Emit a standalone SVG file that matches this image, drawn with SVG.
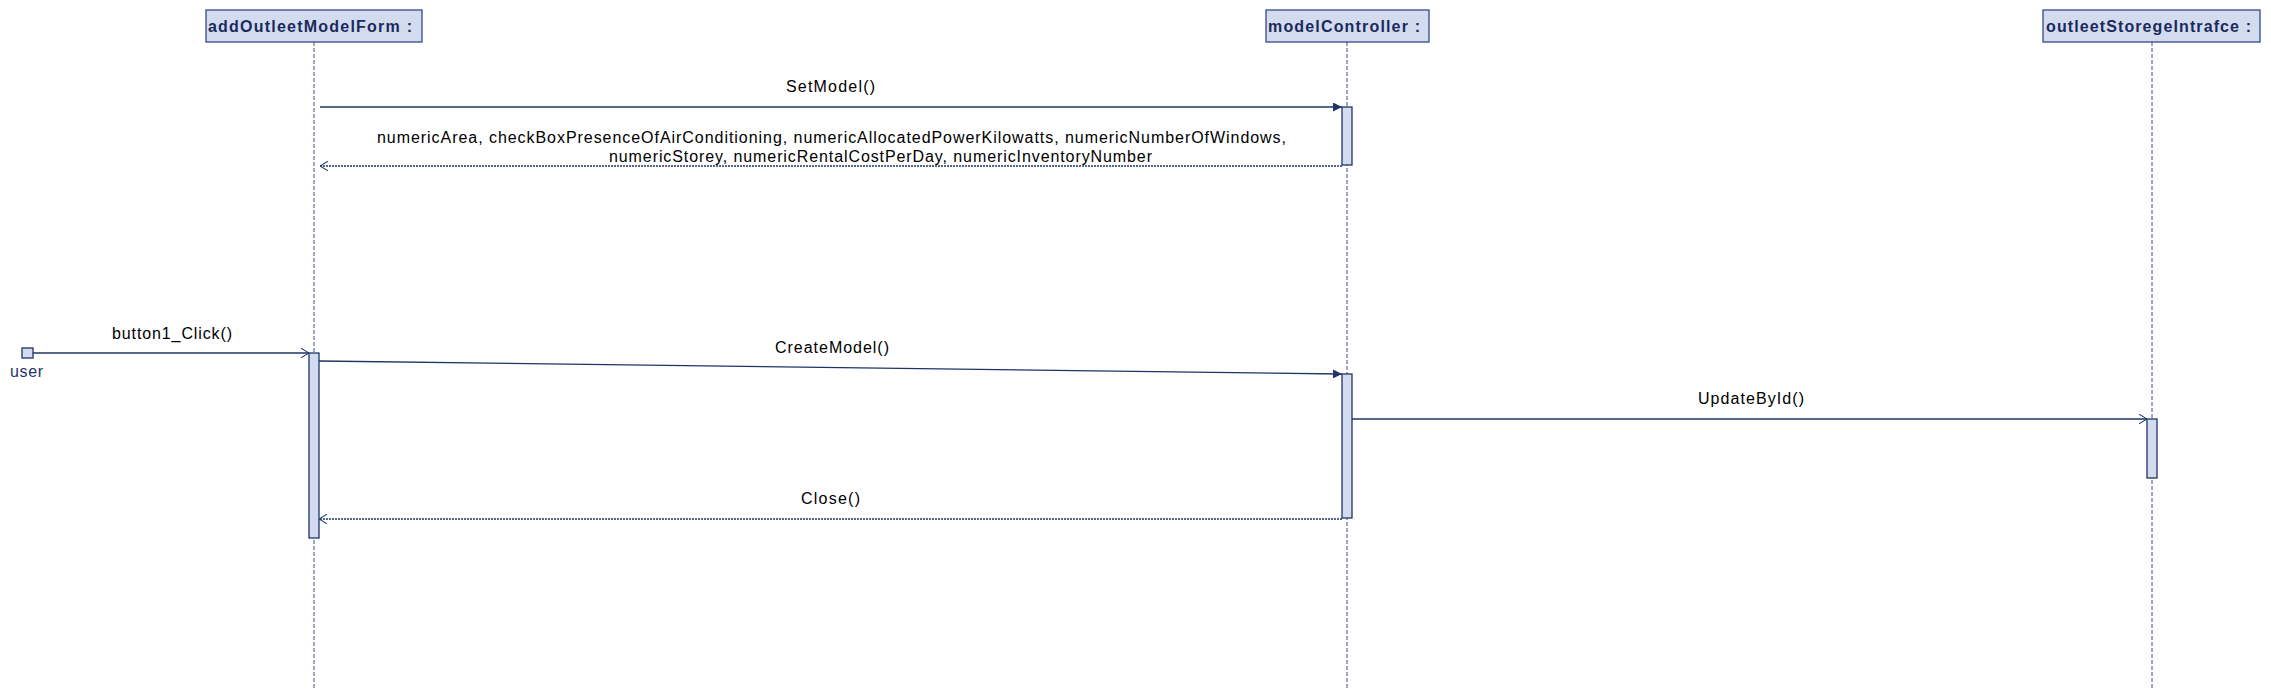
<svg xmlns="http://www.w3.org/2000/svg" width="2271" height="699" viewBox="0 0 2271 699">
<style>
.hdr{fill:#d3dcef;stroke:#34488a;stroke-width:1.3}
.hdrt{font-family:"Liberation Sans",Arial,sans-serif;font-weight:bold;font-size:16px;fill:#1a2a5e}
.life{stroke:#3a4f8a;stroke-width:1;stroke-dasharray:4 2;fill:none}
.act{fill:#d3dcef;stroke:#1f3468;stroke-width:1.3}
.msg{stroke:#1f3468;stroke-width:1.3;fill:none}
.ret{stroke:#1f3468;stroke-width:1.3;fill:none;stroke-dasharray:2 1}
.lbl{font-family:"Liberation Sans",Arial,sans-serif;font-size:16px;fill:#000}
.usr{font-family:"Liberation Sans",Arial,sans-serif;font-size:16px;fill:#1f3468}
</style>
<defs>
<marker id="filled" viewBox="0 0 10 10" refX="10" refY="5" markerWidth="9" markerHeight="9" markerUnits="userSpaceOnUse" orient="auto">
<path d="M0,0 L10,5 L0,10 Z" fill="#1f3468"/>
</marker>
<marker id="open" viewBox="0 0 10 12" refX="10" refY="6" markerWidth="8" markerHeight="10" markerUnits="userSpaceOnUse" orient="auto">
<path d="M0,0 L10,6 L0,12" fill="none" stroke="#1f3468" stroke-width="1.3"/>
</marker>
</defs>
<rect width="2271" height="699" fill="#fff"/>

<g id="addOutleetModelForm">
<line class="life" x1="314" y1="42" x2="314" y2="688"/>
<rect class="hdr" x="206" y="10" width="216" height="32"/>
<text class="hdrt" x="208" y="32" textLength="204" lengthAdjust="spacing">addOutleetModelForm :</text>
<rect class="act" x="309" y="353" width="10" height="185"/>
</g>

<g id="modelController">
<line class="life" x1="1347" y1="42" x2="1347" y2="688"/>
<rect class="hdr" x="1266" y="10" width="163" height="32"/>
<text class="hdrt" x="1268" y="32" textLength="152" lengthAdjust="spacing">modelController :</text>
<rect class="act" x="1342" y="107" width="10" height="58"/>
<rect class="act" x="1342" y="374" width="10" height="144"/>
</g>

<g id="outleetStoregeIntrafce">
<line class="life" x1="2152" y1="42" x2="2152" y2="688"/>
<rect class="hdr" x="2043" y="10" width="217" height="32"/>
<text class="hdrt" x="2046" y="32" textLength="205" lengthAdjust="spacing">outleetStoregeIntrafce :</text>
<rect class="act" x="2147" y="419" width="10" height="59"/>
</g>

<g id="user">
<rect class="act" x="22" y="348" width="11" height="10"/>
<text class="usr" x="10" y="377" textLength="33" lengthAdjust="spacing">user</text>
</g>

<g id="connectors">
<line class="msg" x1="320" y1="107" x2="1342" y2="107" marker-end="url(#filled)"/>
<text class="lbl" x="786" y="92" textLength="89" lengthAdjust="spacing">SetModel()</text>
<line class="ret" x1="1342" y1="166" x2="320" y2="166" marker-end="url(#open)"/>
<text class="lbl" x="377" y="143" textLength="909" lengthAdjust="spacing">numericArea, checkBoxPresenceOfAirConditioning, numericAllocatedPowerKilowatts, numericNumberOfWindows,</text>
<text class="lbl" x="609" y="162" textLength="543" lengthAdjust="spacing">numericStorey, numericRentalCostPerDay, numericInventoryNumber</text>

<line class="msg" x1="33" y1="353" x2="309" y2="353" marker-end="url(#open)"/>
<text class="lbl" x="112" y="339" textLength="120" lengthAdjust="spacing">button1_Click()</text>

<line class="msg" x1="319" y1="361" x2="1342" y2="374" marker-end="url(#filled)"/>
<text class="lbl" x="775" y="353" textLength="114" lengthAdjust="spacing">CreateModel()</text>

<line class="msg" x1="1352" y1="419" x2="2147" y2="419" marker-end="url(#open)"/>
<text class="lbl" x="1698" y="404" textLength="106" lengthAdjust="spacing">UpdateById()</text>

<line class="ret" x1="1342" y1="519" x2="319" y2="519" marker-end="url(#open)"/>
<text class="lbl" x="801" y="504" textLength="59" lengthAdjust="spacing">Close()</text>
</g>
</svg>
